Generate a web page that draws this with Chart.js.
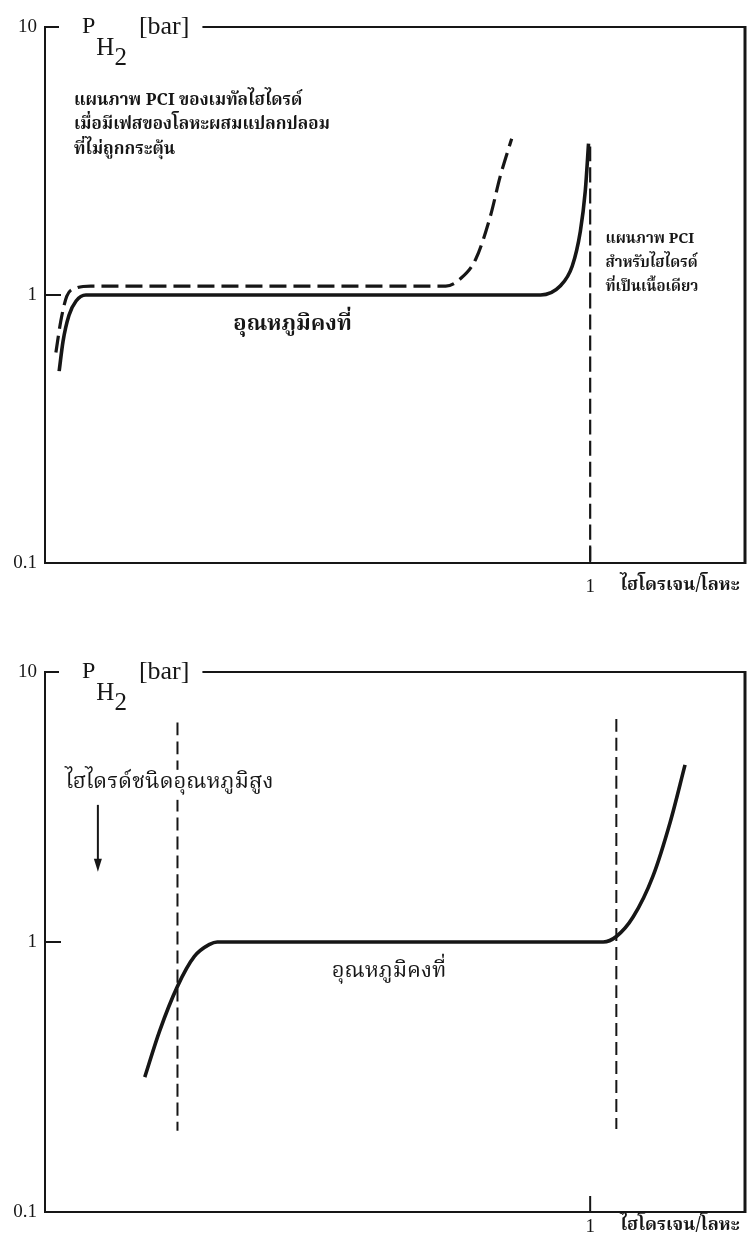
<!DOCTYPE html>
<html>
<head>
<meta charset="utf-8">
<script src="https://cdn.jsdelivr.net/npm/chart.js@4.4.1/dist/chart.umd.min.js"></script>
<style>
  html, body { margin: 0; padding: 0; background: #fff; }
  .panel { width: 750px; height: 622px; }
</style>
</head>
<body>
<div class="panel"><canvas id="pciTop" width="750" height="622"></canvas></div>
<div class="panel"><canvas id="pciBottom" width="750" height="622"></canvas></div>
<script>
/* PCI diagrams: P_H2 (log) against H/M, two panels */

const Y_TICKS = [0.1, 1, 10];
const X_TICKS = [1];
const X_MAX = 1.284;

// top panel: homogeneous hydride (solid) and with inactive foreign phase (dashed)
const topSolidX = [0.026, 0.033, 0.044, 0.057, 0.075, 0.909, 0.945, 0.967, 0.982, 0.991, 0.997];
const topSolidY = [0.52, 0.67, 0.84, 0.95, 1.0, 1.0, 1.08, 1.28, 1.73, 2.44, 3.67];
const topDashX = [0.020, 0.029, 0.040, 0.057, 0.084, 0.735, 0.762, 0.790, 0.817, 0.835, 0.856];
const topDashY = [0.61, 0.80, 0.99, 1.06, 1.08, 1.08, 1.15, 1.36, 1.97, 2.77, 3.83];
const topLimitX = [1, 1];
const topLimitY = [3.58, 0.1];

// bottom panel: high-temperature hydride
const botSolidX = [0.183, 0.210, 0.243, 0.274, 0.302, 0.316, 1.024, 1.048, 1.079, 1.115, 1.147, 1.174];
const botSolidY = [0.316, 0.467, 0.685, 0.884, 0.98, 1.0, 1.0, 1.048, 1.24, 1.75, 2.79, 4.53];
const botLeftX = [0.243, 0.243];
const botLeftY = [6.5, 0.2];
const botRightX = [1.048, 1.048];
const botRightY = [6.7, 0.203];

const INK = '#161616';
const SERIF = '"Liberation Serif", "DejaVu Serif", serif';
const THAI = '"Noto Serif Thai", Kinnari, Norasi, Loma, Garuda, "Noto Sans Thai", "DejaVu Sans", serif';
const X_LABEL = 'ไฮโดรเจน/โลหะ';

const pts = (xs, ys) => xs.map((x, i) => ({ x, y: ys[i] }));

function line(xs, ys, width, dash) {
  return {
    data: pts(xs, ys),
    borderColor: INK,
    borderWidth: width,
    borderDash: dash || [],
    borderCapStyle: 'butt',
    pointRadius: 0,
    cubicInterpolationMode: 'monotone',
    fill: false,
  };
}

// frame (top + right), inward ticks, P_H2 title, x-axis name
function framePlugin(notes) {
  return {
    id: 'frame',
    afterDraw(chart) {
      const { ctx, chartArea: a, scales: { x, y } } = chart;
      ctx.save();
      ctx.strokeStyle = INK;
      ctx.fillStyle = INK;

      // title P_H2 [bar]
      const tx = a.left + 37;
      ctx.textAlign = 'left';
      ctx.textBaseline = 'alphabetic';
      ctx.font = `24px ${SERIF}`;
      ctx.fillText('P', tx, a.top + 6);
      const wP = ctx.measureText('P').width;
      ctx.font = `25px ${SERIF}`;
      ctx.fillText('H', tx + wP + 1, a.top + 28);
      const wH = ctx.measureText('H').width;
      ctx.fillText('2', tx + wP + wH + 1, a.top + 38);
      const w2 = ctx.measureText('2').width;
      ctx.font = `26px ${SERIF}`;
      const bx = tx + wP + wH + w2 + 13;
      ctx.fillText('[bar]', bx, a.top + 7);
      const titleEnd = bx + ctx.measureText('[bar]').width;

      // top border with gap for the title, right border
      ctx.lineWidth = 2;
      ctx.beginPath();
      ctx.moveTo(a.left, a.top);
      ctx.lineTo(a.left + 14, a.top);
      ctx.moveTo(titleEnd + 13, a.top);
      ctx.lineTo(a.right, a.top);
      ctx.stroke();
      ctx.lineWidth = 3;
      ctx.beginPath();
      ctx.moveTo(a.right, a.top - 1);
      ctx.lineTo(a.right, a.bottom + 1);
      ctx.stroke();

      // inward tick at y = 1 and at x = 1
      ctx.lineWidth = 2;
      const y1 = y.getPixelForValue(1);
      ctx.beginPath();
      ctx.moveTo(a.left, y1);
      ctx.lineTo(a.left + 16, y1);
      const x1 = x.getPixelForValue(1);
      ctx.moveTo(x1, a.bottom);
      ctx.lineTo(x1, a.bottom - 16);
      ctx.stroke();

      // x-axis name, next to the "1" tick label
      ctx.font = `bold 18px ${THAI}`;
      ctx.textBaseline = 'middle';
      ctx.fillText(X_LABEL, x1 + 30, a.bottom + notes.xLabelDy);

      // annotations placed in data units
      notes.texts.forEach((t) => {
        ctx.font = t.font;
        ctx.textAlign = t.align || 'left';
        ctx.textBaseline = 'middle';
        const px = x.getPixelForValue(t.x);
        let py = y.getPixelForValue(t.y);
        t.lines.forEach((s) => {
          if (t.knockout) {
            const w = ctx.measureText(s).width;
            ctx.fillStyle = '#fff';
            ctx.fillRect(px - 2, py - 15, w + 4, 30);
            ctx.fillStyle = INK;
          }
          ctx.fillText(s, px, py);
          py += t.lineHeight || 0;
        });
      });

      // arrow
      if (notes.arrow) {
        const ar = notes.arrow;
        const ax = x.getPixelForValue(ar.x);
        const ay0 = y.getPixelForValue(ar.y0);
        const ay1 = y.getPixelForValue(ar.y1);
        ctx.lineWidth = 2;
        ctx.beginPath();
        ctx.moveTo(ax, ay0);
        ctx.lineTo(ax, ay1 - 10);
        ctx.stroke();
        ctx.beginPath();
        ctx.moveTo(ax - 4, ay1 - 13);
        ctx.lineTo(ax + 4, ay1 - 13);
        ctx.lineTo(ax, ay1);
        ctx.closePath();
        ctx.fill();
      }
      ctx.restore();
    },
  };
}

function options(padTop, xHeight, xPad) {
  return {
    responsive: false,
    animation: false,
    events: [],
    layout: { padding: { top: padTop, right: 5, left: 0, bottom: 0 } },
    plugins: { legend: { display: false }, tooltip: { enabled: false } },
    scales: {
      x: {
        type: 'linear', min: 0, max: X_MAX,
        afterBuildTicks: (s) => { s.ticks = X_TICKS.map((v) => ({ value: v })); },
        afterFit: (s) => { s.height = xHeight; },
        ticks: { callback: (v) => String(v), color: INK, font: { family: SERIF, size: 19 }, padding: xPad, maxRotation: 0, autoSkip: false },
        grid: { display: false, drawTicks: false },
        border: { display: true, color: INK, width: 2 },
      },
      y: {
        type: 'logarithmic', min: 0.1, max: 10,
        afterBuildTicks: (s) => { s.ticks = Y_TICKS.map((v) => ({ value: v })); },
        afterFit: (s) => { s.width = 45; },
        ticks: { callback: (v) => String(v), color: INK, font: { family: SERIF, size: 19 }, padding: 8, autoSkip: false },
        grid: { display: false, drawTicks: false },
        border: { display: true, color: INK, width: 2 },
      },
    },
  };
}

new Chart(document.getElementById('pciTop'), {
  type: 'line',
  data: {
    datasets: [
      line(topSolidX, topSolidY, 3.6),
      line(topDashX, topDashY, 3.2, [17, 7]),
      line(topLimitX, topLimitY, 2.2, [15, 6]),
    ],
  },
  options: options(27, 59, 13),
  plugins: [framePlugin({
    xLabelDy: 24,
    texts: [
      { x: 0.053, y: 5.26, lineHeight: 24.5, font: `bold 17px ${THAI}`,
        lines: ['แผนภาพ PCI ของเมทัลไฮไดรด์', 'เมื่อมีเฟสของโลหะผสมแปลกปลอม', 'ที่ไม่ถูกกระตุ้น'] },
      { x: 1.028, y: 1.6, lineHeight: 24, font: `bold 15px ${THAI}`,
        lines: ['แผนภาพ PCI', 'สำหรับไฮไดรด์', 'ที่เป็นเนื้อเดียว'] },
      { x: 0.454, y: 0.767, align: 'center', font: `bold 22px ${THAI}`, lines: ['อุณหภูมิคงที่'] },
    ],
  })],
});

new Chart(document.getElementById('pciBottom'), {
  type: 'line',
  data: {
    datasets: [
      line(botSolidX, botSolidY, 3.6),
      line(botLeftX, botLeftY, 2, [13, 6]),
      line(botRightX, botRightY, 2, [13, 6]),
    ],
  },
  options: options(50, 32, 4),
  plugins: [framePlugin({
    xLabelDy: 15,
    texts: [
      { x: 0.037, y: 3.82, knockout: true, font: `22px ${THAI}`, lines: ['ไฮไดรด์ชนิดอุณหภูมิสูง'] },
      { x: 0.631, y: 0.765, align: 'center', font: `22px ${THAI}`, lines: ['อุณหภูมิคงที่'] },
    ],
    arrow: { x: 0.097, y0: 3.22, y1: 1.82 },
  })],
});
</script>
</body>
</html>
